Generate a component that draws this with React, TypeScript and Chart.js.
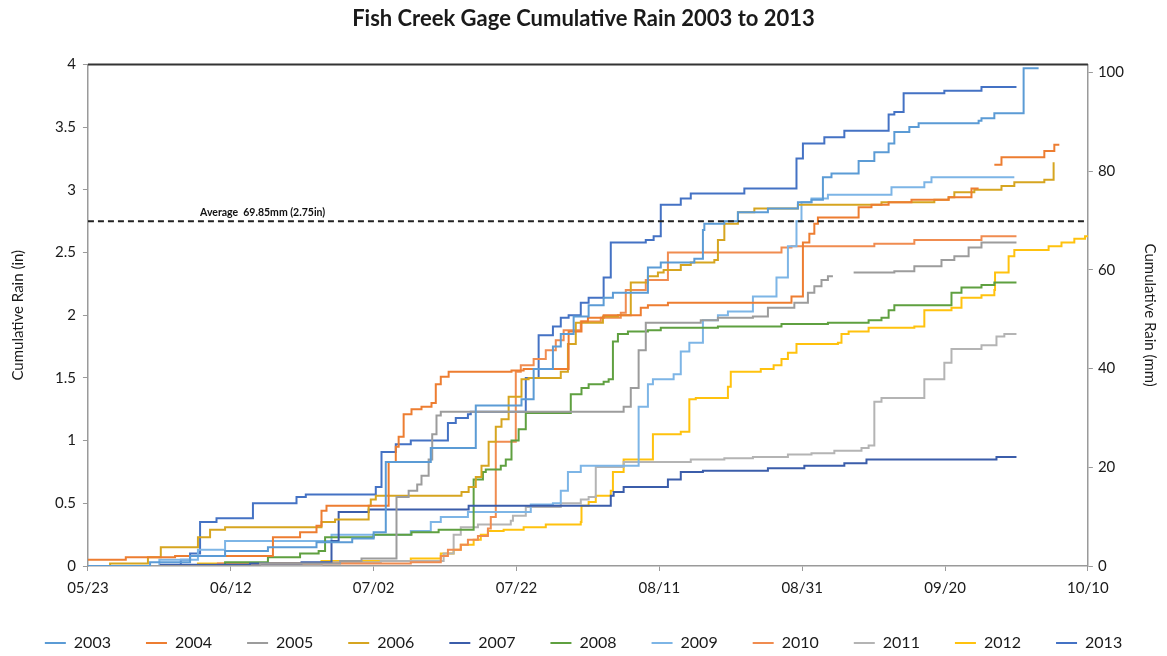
import React, { useEffect, useRef } from 'react';
import { Chart, registerables } from 'chart.js';

Chart.register(...registerables);

// ---- Data -------------------------------------------------------------
// x = days after 05/23, y = cumulative rain (inches)
const xTickDays = [0, 20, 40, 60, 80, 100, 120, 140];
const xTickLabels = ['05/23', '06/12', '07/02', '07/22', '08/11', '08/31', '09/20', '10/10'];
const rightTicksMm = [0, 20, 40, 60, 80, 100];
const years = ['2003', '2004', '2005', '2006', '2007', '2008', '2009', '2010', '2011', '2012', '2013'];
const colors = ['#5B9BD5', '#ED7D31', '#9C9C9C', '#D6A520', '#3B5DAA', '#5FA040', '#7DB5E6', '#F08C50', '#B4B4B4', '#FFC20E', '#4472C4'];

const averageIn = 2.75;
const averageLabel = 'Average  69.85mm (2.75in)';
const averageLabelDay = 15.7;

type P = [number, number | null];

const s2003: P[] = [[0, 0], [8.7, 0.03], [14.3, 0.08], [19.2, 0.12], [25.2, 0.15], [32.0, 0.19], [37, 0.22], [40.0, 0.27], [41.7, 0.83], [48.0, 0.94], [54.3, 1.28], [60.7, 1.33], [62.4, 1.57], [65.1, 1.75], [66.2, 1.85], [68.0, 1.99], [70.1, 2.08], [72.2, 2.14], [73.5, 2.18], [78.4, 2.38], [80.2, 2.42], [84.9, 2.45], [86.1, 2.68], [86.3, 2.73], [89.1, 2.75], [91.0, 2.82], [95.2, 2.85], [99.4, 2.9], [101.3, 2.92], [102.9, 3.1], [104.1, 3.13], [107.9, 3.23], [110.1, 3.3], [112.1, 3.37], [112.9, 3.46], [115.0, 3.5], [116.3, 3.53], [124.7, 3.55], [125.1, 3.57], [126.9, 3.61], [131.0, 3.97], [133.1, 3.97]];
const s2004: P[] = [[0, 0.05], [5.3, 0.07], [12.2, 0.08], [25.9, 0.23], [29.7, 0.27], [32.0, 0.32], [32.7, 0.44], [33.4, 0.48], [42.1, 0.83], [43.1, 0.95], [43.5, 1.03], [44.2, 1.21], [45.3, 1.25], [46.7, 1.27], [48.1, 1.3], [48.7, 1.45], [49.4, 1.51], [50.5, 1.55], [59.3, 1.56], [61.0, 1.57], [67.3, 1.87], [69.1, 1.95], [70.0, 1.98], [72.2, 2.0], [77.4, 2.06], [78.4, 2.08], [81.2, 2.1], [98.5, 2.15], [100.1, 2.58], [101.0, 2.65], [101.7, 2.73], [102.2, 2.78], [107.9, 2.86], [109.7, 2.88], [112.1, 2.9], [115.3, 2.92], [120.5, 2.94], [123.7, 3.01], [124.7, 3.01], [125.0, null], [126.9, 3.2], [127.9, 3.26], [133.9, 3.31], [135.3, 3.36], [136.0, 3.36]];
const s2005: P[] = [[0, 0], [24.1, 0.02], [35.3, 0.04], [38.3, 0.06], [43.2, 0.55], [44.9, 0.6], [46.1, 0.65], [46.7, 0.72], [47.7, 0.85], [48.2, 1.05], [48.8, 1.2], [49.4, 1.23], [75.0, 1.27], [76.0, 1.42], [77.1, 1.72], [78.1, 1.94], [85.8, 1.96], [88.2, 1.98], [93.1, 1.99], [95.2, 2.06], [98.9, 2.1], [100.8, 2.18], [101.7, 2.23], [102.7, 2.28], [103.6, 2.31], [104.3, 2.31], [105, null], [107.2, 2.34], [112.9, 2.35], [115.7, 2.39], [119.5, 2.44], [121.3, 2.47], [123.3, 2.54], [125.1, 2.58], [130.0, 2.58]];
const s2006: P[] = [[0, 0], [3.1, 0.02], [8.4, 0.07], [10.2, 0.15], [15.4, 0.23], [17.1, 0.29], [19.2, 0.31], [32.7, 0.35], [34.6, 0.37], [39.3, 0.48], [39.6, 0.53], [40.3, 0.56], [52.3, 0.59], [53.3, 0.63], [54.3, 0.71], [55.1, 0.8], [56.1, 0.99], [57.1, 1.11], [57.9, 1.17], [58.9, 1.35], [60.7, 1.49], [61.7, 1.5], [66.2, 1.55], [67.2, 1.77], [68.3, 1.94], [72.1, 1.99], [74.2, 2.0], [76.0, 2.26], [78.4, 2.31], [79.8, 2.34], [80.6, 2.36], [83.0, 2.4], [84.4, 2.42], [87.7, 2.44], [88.2, 2.6], [89.1, 2.73], [91.0, 2.82], [93.3, 2.85], [99.4, 2.88], [111.1, 2.9], [118.5, 2.92], [120.5, 2.94], [121.3, 2.98], [124.1, 3.0], [127.9, 3.03], [129.7, 3.06], [133.9, 3.08], [135.2, 3.22]];
const s2007: P[] = [[0, 0], [10.2, 0.01], [22.7, 0.02], [29.9, 0.03], [34.1, 0.2], [35.1, 0.43], [39.3, 0.45], [53.3, 0.48], [73.2, 0.56], [73.6, 0.59], [75.0, 0.63], [81.2, 0.69], [83.0, 0.75], [86.1, 0.76], [95.2, 0.78], [100.3, 0.8], [105.9, 0.82], [109.0, 0.85], [127.2, 0.87], [130.0, 0.87]];
const s2008: P[] = [[0, 0], [19.2, 0.03], [25.2, 0.07], [29.7, 0.1], [32.3, 0.12], [33.2, 0.23], [40, 0.25], [45.3, 0.27], [49.1, 0.29], [54.0, 0.69], [55.3, 0.75], [55.7, 0.77], [57.8, 0.8], [58.5, 0.85], [59.3, 1.0], [60.3, 1.09], [61.3, 1.22], [67.6, 1.37], [69.1, 1.42], [70.1, 1.45], [72.2, 1.47], [72.9, 1.49], [73.5, 1.79], [74.2, 1.85], [75.6, 1.87], [78.4, 1.88], [80.2, 1.9], [88.2, 1.91], [97.1, 1.93], [103.6, 1.94], [109.3, 1.96], [111.1, 1.98], [112.1, 2.04], [112.9, 2.08], [120.9, 2.18], [122.3, 2.22], [125.1, 2.24], [126.9, 2.26], [130.0, 2.26]];
const s2009: P[] = [[0, 0], [10.0, 0.05], [15.4, 0.13], [19.2, 0.2], [34.1, 0.25], [45.2, 0.28], [48.0, 0.35], [49.4, 0.39], [53.2, 0.43], [62.0, 0.49], [65.1, 0.5], [66.2, 0.6], [67.2, 0.75], [69.0, 0.8], [77.1, 1.27], [78.4, 1.45], [79.1, 1.49], [82.0, 1.53], [83.0, 1.71], [84.2, 1.78], [86.1, 1.96], [88.2, 2.0], [89.6, 2.03], [93.1, 2.15], [96.4, 2.3], [98.0, 2.55], [99.2, 2.75], [99.9, 2.9], [101.3, 2.93], [103.6, 2.96], [112.5, 3.02], [117.1, 3.06], [118.1, 3.1], [129.7, 3.1]];
const s2010: P[] = [[0, 0], [18.2, 0.02], [45.2, 0.03], [49.4, 0.08], [50.4, 0.13], [52.2, 0.17], [53.2, 0.21], [54.6, 0.24], [56.0, 0.3], [56.4, 0.39], [57.1, 0.99], [59.9, 1.55], [60.6, 1.6], [62.4, 1.65], [64.1, 1.72], [65.5, 1.8], [66.6, 1.88], [69.0, 1.95], [71.8, 1.98], [74.6, 2.02], [75.3, 2.2], [78.1, 2.28], [81.2, 2.5], [97.1, 2.54], [98.5, 2.55], [110.1, 2.57], [115.7, 2.6], [125.1, 2.63], [130.0, 2.63]];
const s2011: P[] = [[0, 0], [19.6, 0.01], [32.7, 0.03], [41.0, 0.04], [49.8, 0.1], [51.2, 0.25], [52.2, 0.31], [54.6, 0.33], [59.2, 0.36], [59.5, 0.4], [61.3, 0.47], [66.2, 0.5], [69.0, 0.53], [70.1, 0.55], [71.1, 0.79], [75.0, 0.83], [84.4, 0.85], [89.1, 0.86], [93.1, 0.87], [98.0, 0.89], [101.3, 0.9], [104.5, 0.92], [108.3, 0.94], [109.3, 0.96], [110.1, 1.31], [111.1, 1.34], [117.1, 1.49], [119.9, 1.62], [120.9, 1.73], [125.1, 1.76], [127.2, 1.83], [128.3, 1.85], [130.0, 1.85]];
const s2012: P[] = [[0, 0], [15.4, 0.02], [32.7, 0.04], [45.2, 0.06], [49.4, 0.1], [51.2, 0.13], [52.2, 0.17], [54.0, 0.21], [55.0, 0.25], [56.0, 0.28], [58.2, 0.29], [61.0, 0.31], [64.1, 0.33], [69.0, 0.35], [69.1, 0.48], [70.1, 0.51], [71.1, 0.56], [73.2, 0.6], [73.5, 0.75], [75.0, 0.85], [79.1, 1.05], [83.0, 1.07], [84.2, 1.33], [85.1, 1.34], [89.1, 1.34], [89.6, 1.43], [90.0, 1.55], [94.2, 1.57], [96.0, 1.6], [97.1, 1.65], [98.0, 1.7], [99.2, 1.77], [105.0, 1.78], [105.5, 1.85], [106.5, 1.87], [109.3, 1.9], [115.7, 1.91], [117.1, 2.04], [120.9, 2.06], [122.3, 2.14], [125.1, 2.16], [126.9, 2.2], [127.0, 2.34], [128.9, 2.47], [129.7, 2.52], [134.5, 2.55], [136.3, 2.58], [138.1, 2.61], [139.6, 2.63], [140.1, 2.63]];
const s2013: P[] = [[0, 0], [13.0, 0.05], [14.3, 0.1], [15.7, 0.35], [18.0, 0.38], [23.1, 0.5], [29.2, 0.55], [30.5, 0.57], [40.3, 0.63], [41.1, 0.91], [43.1, 0.97], [45.2, 1.0], [50.4, 1.14], [51.5, 1.18], [53.2, 1.21], [53.6, 1.23], [61.3, 1.5], [63.1, 1.84], [65.1, 1.91], [66.2, 1.98], [67.3, 2.0], [69.0, 2.1], [70.1, 2.14], [72.2, 2.3], [73.2, 2.58], [78.1, 2.6], [79.2, 2.63], [80.2, 2.88], [83.0, 2.93], [84.4, 2.97], [91.9, 3.01], [99.2, 3.25], [100.1, 3.37], [103.1, 3.42], [105.9, 3.47], [112.1, 3.6], [112.9, 3.62], [114.2, 3.77], [119.9, 3.79], [125.1, 3.82], [130.0, 3.82]];

const seriesValues: P[][] = [s2003, s2004, s2005, s2006, s2007, s2008, s2009, s2010, s2011, s2012, s2013];

const TEXT = '#1a1a1a';
const AXIS = '#9a9a9a';
const FONT = 'Lato';

const decorPlugin = {
  id: 'decor',
  afterDatasetsDraw(chart: any) {
    const { ctx, chartArea, scales } = chart;
    ctx.save();
    ctx.strokeStyle = '#333';
    ctx.lineWidth = 2;
    ctx.beginPath();
    ctx.moveTo(chartArea.left, chartArea.top);
    ctx.lineTo(chartArea.right, chartArea.top);
    ctx.stroke();
    ctx.font = `bold 10.5px ${FONT}`;
    ctx.fillStyle = '#111';
    ctx.textAlign = 'left';
    ctx.textBaseline = 'bottom';
    ctx.fillText(averageLabel, scales.x.getPixelForValue(averageLabelDay), scales.y.getPixelForValue(averageIn) - 3);
    ctx.restore();
  },
};

export default function App() {
  const ref = useRef<HTMLCanvasElement>(null);

  useEffect(() => {
    document.body.style.margin = '0';
    document.body.style.overflow = 'hidden';
    const canvas = ref.current;
    if (!canvas) return;

    const datasets: any[] = years.map((label, i) => ({
      label,
      data: seriesValues[i].map(([x, y]) => ({ x, y })),
      borderColor: colors[i],
      backgroundColor: colors[i],
      borderWidth: 2,
      pointRadius: 0,
      stepped: 'before',
      spanGaps: false,
      fill: false,
      yAxisID: 'y',
    }));
    datasets.push({
      label: 'Average',
      data: [{ x: xTickDays[0], y: averageIn }, { x: xTickDays[xTickDays.length - 1], y: averageIn }],
      borderColor: '#222',
      backgroundColor: '#222',
      borderWidth: 2,
      borderDash: [6, 4],
      pointRadius: 0,
      fill: false,
      yAxisID: 'y',
      order: -1,
    });

    const chart = new Chart(canvas, {
      type: 'line',
      data: { datasets },
      plugins: [decorPlugin],
      options: {
        responsive: false,
        animation: false,
        maintainAspectRatio: false,
        layout: { padding: { left: 4, right: 4, top: 0, bottom: -5 } },
        plugins: {
          tooltip: { enabled: false },
          title: {
            display: true,
            text: 'Fish Creek Gage Cumulative Rain 2003 to 2013',
            color: TEXT,
            font: { family: FONT, size: 22, weight: 'bold' },
            padding: { top: 6, bottom: 32 },
          },
          legend: {
            position: 'bottom',
            labels: {
              boxWidth: 21,
              boxHeight: 2,
              padding: 35,
              color: TEXT,
              font: { family: FONT, size: 16 },
              filter: (item: any) => item.text !== 'Average',
              generateLabels: (c: any) =>
                (Chart.defaults.plugins.legend.labels.generateLabels as any)(c).map((l: any) => ({
                  ...l,
                  lineWidth: 0,
                  fillStyle: l.strokeStyle,
                  lineDash: [],
                })),
            },
          },
        },
        scales: {
          x: {
            type: 'linear',
            min: xTickDays[0],
            max: xTickDays[xTickDays.length - 1],
            afterBuildTicks: (s: any) => {
              s.ticks = xTickDays.map((v) => ({ value: v }));
            },
            afterFit: (s: any) => {
              s.height -= 5;
            },
            ticks: {
              autoSkip: false,
              maxRotation: 0,
              padding: 8,
              color: TEXT,
              font: { family: FONT, size: 15 },
              callback: (v: any) => xTickLabels[xTickDays.indexOf(Number(v))] ?? '',
            },
            grid: { display: true, drawOnChartArea: false, drawTicks: true, tickLength: 5, color: AXIS },
            border: { display: true, color: AXIS, width: 1.5 },
          },
          y: {
            type: 'linear',
            position: 'left',
            min: 0,
            max: 4,
            ticks: {
              stepSize: 0.5,
              padding: 7,
              color: TEXT,
              font: { family: FONT, size: 15 },
              callback: (v: any) => String(v),
            },
            grid: { display: true, drawOnChartArea: false, drawTicks: true, tickLength: 5, color: AXIS },
            border: { display: true, color: AXIS, width: 1.5 },
            title: {
              display: true,
              text: 'Cumulative Rain (in)',
              color: TEXT,
              font: { family: FONT, size: 15 },
              padding: { top: 5, bottom: 21 },
            },
          },
          y2: {
            type: 'linear',
            position: 'right',
            min: 0,
            max: 4 * 25.4,
            afterBuildTicks: (s: any) => {
              s.ticks = rightTicksMm.map((v) => ({ value: v }));
            },
            ticks: {
              padding: 5,
              color: TEXT,
              font: { family: FONT, size: 15 },
              callback: (v: any) => String(v),
            },
            grid: { display: true, drawOnChartArea: false, drawTicks: true, tickLength: 5, color: AXIS },
            border: { display: true, color: AXIS, width: 1.5 },
            title: {
              display: true,
              text: 'Cumulative Rain (mm)',
              color: TEXT,
              font: { family: FONT, size: 15 },
              padding: { top: 4, bottom: 12 },
            },
          },
        },
      } as any,
    });

    return () => chart.destroy();
  }, []);

  return (
    <div style={{ width: 1167, height: 656, background: '#fff' }}>
      <canvas ref={ref} width={1167} height={656} style={{ display: 'block', width: 1167, height: 656 }} />
    </div>
  );
}
